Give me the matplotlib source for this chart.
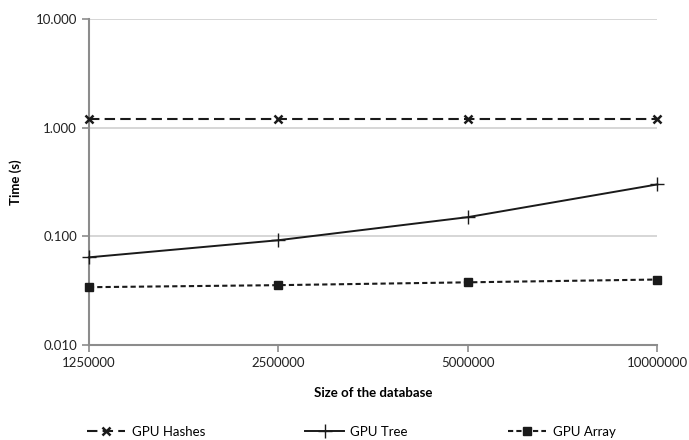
import numpy as np
import matplotlib.pyplot as plt

plt.rcParams['font.family'] = ['Lato', 'DejaVu Sans']
plt.rcParams['font.size'] = 9.5

# Database sizes (categories) and timings in seconds
sizes = ['1250000', '2500000', '5000000', '10000000']
gpu_hashes = [1.19, 1.19, 1.19, 1.19]
gpu_tree = [0.064, 0.092, 0.150, 0.300]
gpu_array = [0.034, 0.0355, 0.0377, 0.040]

x = np.arange(len(sizes))

fig = plt.figure(figsize=(6.89, 4.40), dpi=100)
ax = fig.add_axes([0.129, 0.216, 0.825, 0.741])

axis_col = '#8c8c8c'
ax.plot(x, gpu_hashes, color='#1a1a1a', lw=1.5, linestyle=(0, (5, 2.5)),
        marker='x', markersize=5.5, markeredgewidth=1.8, label='GPU Hashes',
        clip_on=False, zorder=3)
ax.plot(x, gpu_tree, color='#1a1a1a', lw=1.4, linestyle='-',
        marker='+', markersize=10, markeredgewidth=1.0, label='GPU Tree',
        clip_on=False, zorder=3)
ax.plot(x, gpu_array, color='#1a1a1a', lw=1.5, linestyle=(0, (2.5, 1.5)),
        marker='s', markersize=6, label='GPU Array', clip_on=False, zorder=3)

ax.set_yscale('log')
ax.set_ylim(0.01, 10)
ax.set_yticks([0.01, 0.1, 1, 10])
ax.set_yticklabels(['0.010', '0.100', '1.000', '10.000'])
ax.minorticks_off()
ax.set_xlim(0, len(sizes) - 1)
ax.set_xticks(x)
ax.set_xticklabels(sizes)

ax.grid(axis='y', color='#d0d0d0', lw=1.2)
ax.set_axisbelow(True)
for side in ['top', 'right']:
    ax.spines[side].set_visible(False)
for side in ['left', 'bottom']:
    ax.spines[side].set_color(axis_col)
    ax.spines[side].set_linewidth(1.5)
ax.tick_params(axis='both', colors=axis_col, width=1.2, length=5,
               labelcolor='#222222', labelsize=9.5)

ax.set_xlabel('Size of the database', fontweight='bold', fontsize=9.5, labelpad=13)
ax.set_ylabel('Time (s)', fontweight='bold', fontsize=9.5, labelpad=10)

fig.legend(loc='center', ncol=3, frameon=False, fontsize=9.5,
           bbox_to_anchor=(0.51, 0.018), columnspacing=7.6, handlelength=2.9,
           handletextpad=0.5)

plt.savefig('out.png', dpi=100)
